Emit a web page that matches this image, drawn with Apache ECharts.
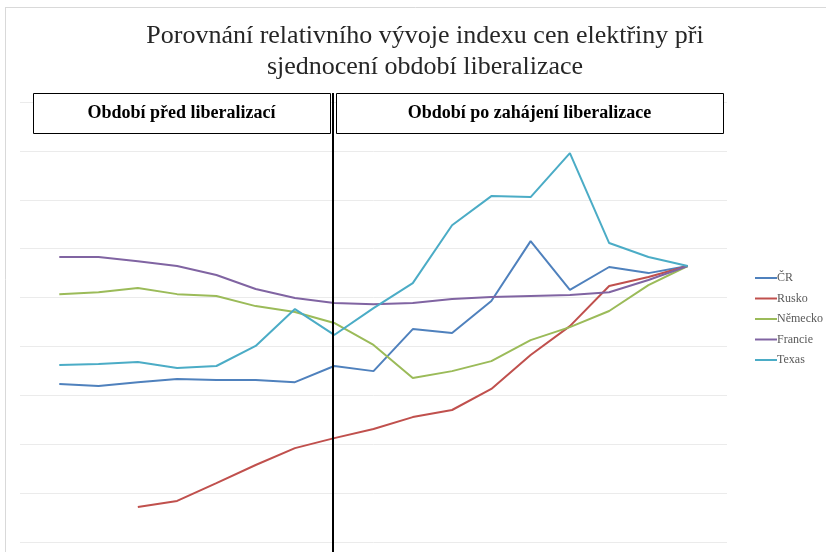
<!DOCTYPE html>
<html>
<head>
<meta charset="utf-8">
<script src="https://cdn.jsdelivr.net/npm/echarts@6/dist/echarts.min.js"></script>
<style>
html,body{margin:0;padding:0;background:#fff;}
#chart{width:826px;height:552px;}
</style>
</head>
<body>
<div id="chart"></div>
<script>
// Categories (periods; unlabeled in the original), padded with empty ends
const categories = ['', 'p1', 'p2', 'p3', 'p4', 'p5', 'p6', 'p7', 'p8', 'p9', 'p10', 'p11', 'p12', 'p13', 'p14', 'p15', 'p16', 'p17', ' '];
const seriesNames = ['ČR', 'Rusko', 'Německo', 'Francie', 'Texas'];
const cr      = [null, 64.6, 63.8, 65.4, 66.7, 66.3, 66.3, 65.4, 72.0, 69.9, 87.1, 85.5, 98.6, 123.1, 103.1, 112.5, 110.0, 112.9, null];
const rusko   = [null, null, null, 14.3, 16.8, 24.1, 31.5, 38.4, 42.5, 46.2, 51.1, 54.0, 62.6, 76.5, 88.3, 104.7, 108.4, 112.9, null];
const nemecko = [null, 101.4, 102.2, 103.9, 101.4, 100.6, 96.5, 94.1, 89.6, 80.6, 67.1, 69.9, 74.0, 82.6, 87.9, 94.5, 105.1, 112.9, null];
const francie = [null, 116.6, 116.6, 114.9, 112.9, 109.2, 103.5, 99.8, 97.8, 97.3, 97.8, 99.4, 100.2, 100.6, 101.0, 102.2, 107.2, 112.9, null];
const texas   = [null, 72.4, 72.8, 73.6, 71.2, 72.0, 80.2, 95.3, 84.7, 95.7, 105.9, 129.6, 141.5, 141.1, 159.1, 122.3, 116.6, 112.9, null];
const colors = ['#4F81BD', '#C0504D', '#9BBB59', '#8064A2', '#4BACC6'];
const dataSets = [cr, rusko, nemecko, francie, texas];
const titleLines = 'Porovnání relativního vývoje indexu cen elektřiny při\nsjednocení období liberalizace';
const periodLabels = ['Období před liberalizací', 'Období po zahájení liberalizace'];
const splitIndex = 8;

const chart = echarts.init(document.getElementById('chart'), null, {renderer: 'canvas'});
const option = {
  backgroundColor: '#fff',
  animation: false,
  color: colors,
  title: {
    text: titleLines,
    left: 420, top: 16, textAlign: 'center',
    textStyle: {fontFamily: 'Liberation Serif', fontSize: 26, fontWeight: 'normal', color: '#262626', lineHeight: 31}
  },
  legend: {
    orient: 'vertical', left: 750, top: 266,
    icon: 'rect', itemWidth: 22, itemHeight: 2, itemGap: 6.5,
    data: seriesNames,
    textStyle: {fontFamily: 'Liberation Serif', fontSize: 12, color: '#595959', padding: [0,0,0,-5], lineHeight: 14}
  },
  grid: {left: 20, right: 99, top: 102, bottom: 10, containLabel: false},
  xAxis: {
    type: 'category', data: categories, boundaryGap: false,
    axisLine: {show: false}, axisTick: {show: false}, axisLabel: {show: false}, splitLine: {show: false}
  },
  yAxis: {
    type: 'value', min: 0, max: 180, interval: 20,
    axisLine: {show: false}, axisTick: {show: false}, axisLabel: {show: false},
    splitLine: {lineStyle: {color: '#ebebeb', width: 1}}
  },
  series: seriesNames.map((n, i) => ({
    name: n, type: 'line', data: dataSets[i], symbol: 'none', connectNulls: false,
    lineStyle: {width: 2, color: colors[i]}, itemStyle: {color: colors[i]}
  }))
};
chart.setOption(option);

const sx = Math.round(chart.convertToPixel({xAxisIndex: 0}, categories[splitIndex])) - 1;
const labelFont = {fontFamily: 'Liberation Serif', fontSize: 18, fontWeight: 'bold', fill: '#000', align: 'center', verticalAlign: 'middle'};
chart.setOption({
  graphic: [
    {type: 'line', shape: {x1: 5.5, y1: 7, x2: 5.5, y2: 552}, style: {stroke: '#d9d9d9', lineWidth: 1}, silent: true},
    {type: 'line', shape: {x1: 5, y1: 7.5, x2: 826, y2: 7.5}, style: {stroke: '#d9d9d9', lineWidth: 1}, silent: true},
    {type: 'rect', shape: {x: 33.5, y: 93.5, width: sx - 36, height: 40}, style: {fill: '#fff', stroke: '#000', lineWidth: 1}, z: 10},
    {type: 'rect', shape: {x: sx + 3.5, y: 93.5, width: 723 - sx - 3, height: 40}, style: {fill: '#fff', stroke: '#000', lineWidth: 1}, z: 10},
    {type: 'text', x: (33 + sx - 3) / 2, y: 113, style: Object.assign({text: periodLabels[0]}, labelFont), z: 11},
    {type: 'text', x: (sx + 3 + 723) / 2, y: 113, style: Object.assign({text: periodLabels[1]}, labelFont), z: 11},
    {type: 'line', shape: {x1: sx, y1: 93, x2: sx, y2: 552}, style: {stroke: '#000', lineWidth: 2}, z: 12}
  ]
});
</script>
</body>
</html>
